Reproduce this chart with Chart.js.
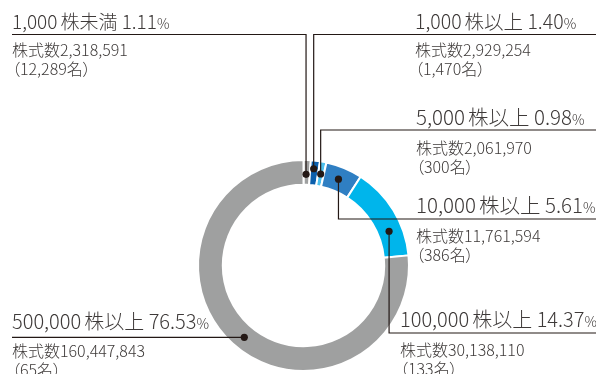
<!DOCTYPE html>
<html><head><meta charset="utf-8">
<script src="https://cdn.jsdelivr.net/npm/chart.js@4/dist/chart.umd.min.js"></script>
<style>
html,body{margin:0;padding:0;background:#fff;}
#wrap{position:relative;width:596px;height:374px;overflow:hidden;font-family:"Noto Sans CJK JP","Noto Sans",sans-serif;color:#3e3a39;font-feature-settings:"palt";}
canvas{position:absolute;left:0;top:0;}
.t{position:absolute;white-space:nowrap;line-height:20px;font-weight:300;}
.t .j{margin-left:3px;}
.t .p{font-size:14px;}
.s{position:absolute;white-space:nowrap;font-size:16px;line-height:19px;font-weight:300;}
</style></head>
<body><div id="wrap"><canvas id="c" width="596" height="374"></canvas></div>
<script>
const categories = ['1,000株未満','1,000株以上','5,000株以上','10,000株以上','100,000株以上','500,000株以上'];
const percentages = [1.11, 1.40, 0.98, 5.61, 14.37, 76.53];
const shareCounts = ['2,318,591','2,929,254','2,061,970','11,761,594','30,138,110','160,447,843'];
const holders = ['12,289','1,470','300','386','133','65'];
const colors = ['#9fa0a0','#0b5fac','#4ec1ee','#2f7fc3','#00b5eb','#9fa0a0'];

// label layout: text box position, leader line y, leader direction, dot placement within arc
const labelLayout = [
  {x:12,  fs:19,   ty:11,  sy:40,  lineY:34.5, side:'left',  frac:0.4,  rf:0.98},
  {x:415, fs:19.5, ty:11,  sy:40,  lineY:34.5, side:'right', frac:0.4,  rf:1.045},
  {x:416, fs:20.5, ty:106, sy:138, lineY:130,  side:'right', frac:0.45, rf:1.0},
  {x:416, fs:20.5, ty:194, sy:226, lineY:219,  side:'right', frac:0.47, rf:1.0},
  {x:400, fs:20,   ty:309, sy:340, lineY:333,  side:'right', frac:0.685,rf:0.99},
  {x:12,  fs:20,   ty:311, sy:341, lineY:null, side:'left',  frac:0.49, rf:1.0}
];

const wrap = document.getElementById('wrap');
categories.forEach((cat,i)=>{
  const L = labelLayout[i];
  const m = cat.match(/^([\d,]+)(.*)$/);
  const t = document.createElement('div');
  t.className='t'; t.style.left=L.x+'px'; t.style.top=L.ty+'px'; t.style.fontSize=L.fs+'px';
  t.innerHTML = '<span>'+m[1]+'</span><span class="j">'+m[2]+'</span> <span>'+percentages[i].toFixed(2)+'</span><span class="p">%</span>';
  wrap.appendChild(t);
  const s = document.createElement('div');
  s.className='s'; s.style.left=L.x+'px'; s.style.top=L.sy+'px';
  s.innerHTML = '株式数'+shareCounts[i]+'<br>（'+holders[i]+'名）';
  wrap.appendChild(s);
});

const leaders = {
  id:'leaders',
  afterDraw(chart){
    const ctx = chart.ctx;
    const meta = chart.getDatasetMeta(0);
    ctx.save();
    ctx.strokeStyle='#231815'; ctx.fillStyle='#231815'; ctx.lineWidth=1.2;
    meta.data.forEach((arc,i)=>{
      const L = labelLayout[i];
      const a = arc.startAngle + L.frac*(arc.endAngle-arc.startAngle);
      const r = (arc.innerRadius+arc.outerRadius)/2*L.rf;
      const px = arc.x + Math.cos(a)*r, py = arc.y + Math.sin(a)*r;
      ctx.beginPath();
      if(L.lineY===null){
        ctx.moveTo(px,py); ctx.lineTo(12,py);
      } else {
        ctx.moveTo(px,py); ctx.lineTo(px,L.lineY);
        ctx.lineTo(L.side==='left'?12:596, L.lineY);
      }
      ctx.stroke();
      ctx.beginPath(); ctx.arc(px,py,3.6,0,Math.PI*2); ctx.fill();
    });
    ctx.restore();
  }
};

new Chart(document.getElementById('c'),{
  type:'doughnut',
  data:{labels:categories,datasets:[{data:percentages,backgroundColor:colors,borderColor:'#ffffff',borderWidth:2}]},
  options:{
    responsive:false,animation:false,cutout:'76.5%',
    layout:{padding:{left:197,right:186,top:159,bottom:2}},
    plugins:{legend:{display:false},tooltip:{enabled:false}}
  },
  plugins:[leaders]
});
</script></body></html>
